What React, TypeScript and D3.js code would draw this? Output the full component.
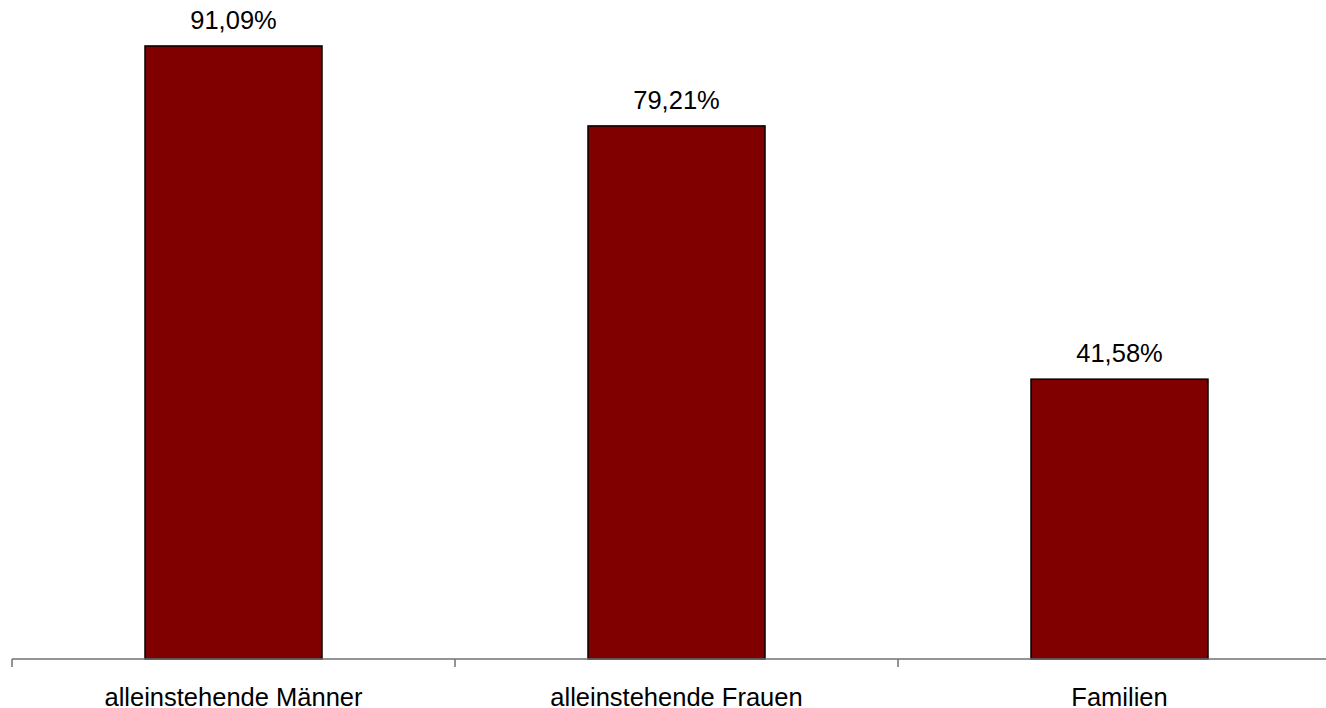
import React from "react";
import * as d3 from "d3";

const categories = ["alleinstehende Männer", "alleinstehende Frauen", "Familien"];
const values = [91.09, 79.21, 41.58];
const valueLabels = ["91,09%", "79,21%", "41,58%"];

const W = 1326;
const H = 708;
const axisY = 659;

export default function App() {
  const x = d3.scaleBand<string>().domain(categories).range([12, 12 + 443 * 3]).paddingInner(0).paddingOuter(0);
  const y = d3.scaleLinear().domain([0, 100]).range([axisY, axisY - 673]);
  const barW = 177;
  const font = "Arial, 'Liberation Sans', sans-serif";

  return (
    <svg width={W} height={H} style={{ position: "absolute", left: 0, top: 0, background: "#fff" }}>
      {categories.map((c, i) => {
        const cx = (x(c) as number) + x.bandwidth() / 2;
        const top = y(values[i]);
        return (
          <g key={c}>
            <rect
              x={cx - barW / 2}
              y={top}
              width={barW}
              height={axisY - top}
              fill="#800000"
              stroke="#000"
              strokeWidth={1.5}
            />
            <text x={cx} y={top - 17} textAnchor="middle" fontFamily={font} fontSize={25.5} fill="#000">
              {valueLabels[i]}
            </text>
            <text x={cx} y={705.5} textAnchor="middle" fontFamily={font} fontSize={25.5} fill="#000">
              {c}
            </text>
          </g>
        );
      })}
      <line x1={12} x2={W} y1={axisY} y2={axisY} stroke="#707070" strokeWidth={1.5} />
      {categories.map((c) => (
        <line key={c} x1={x(c) as number} x2={x(c) as number} y1={axisY} y2={axisY + 8} stroke="#707070" strokeWidth={1.5} />
      ))}
    </svg>
  );
}
